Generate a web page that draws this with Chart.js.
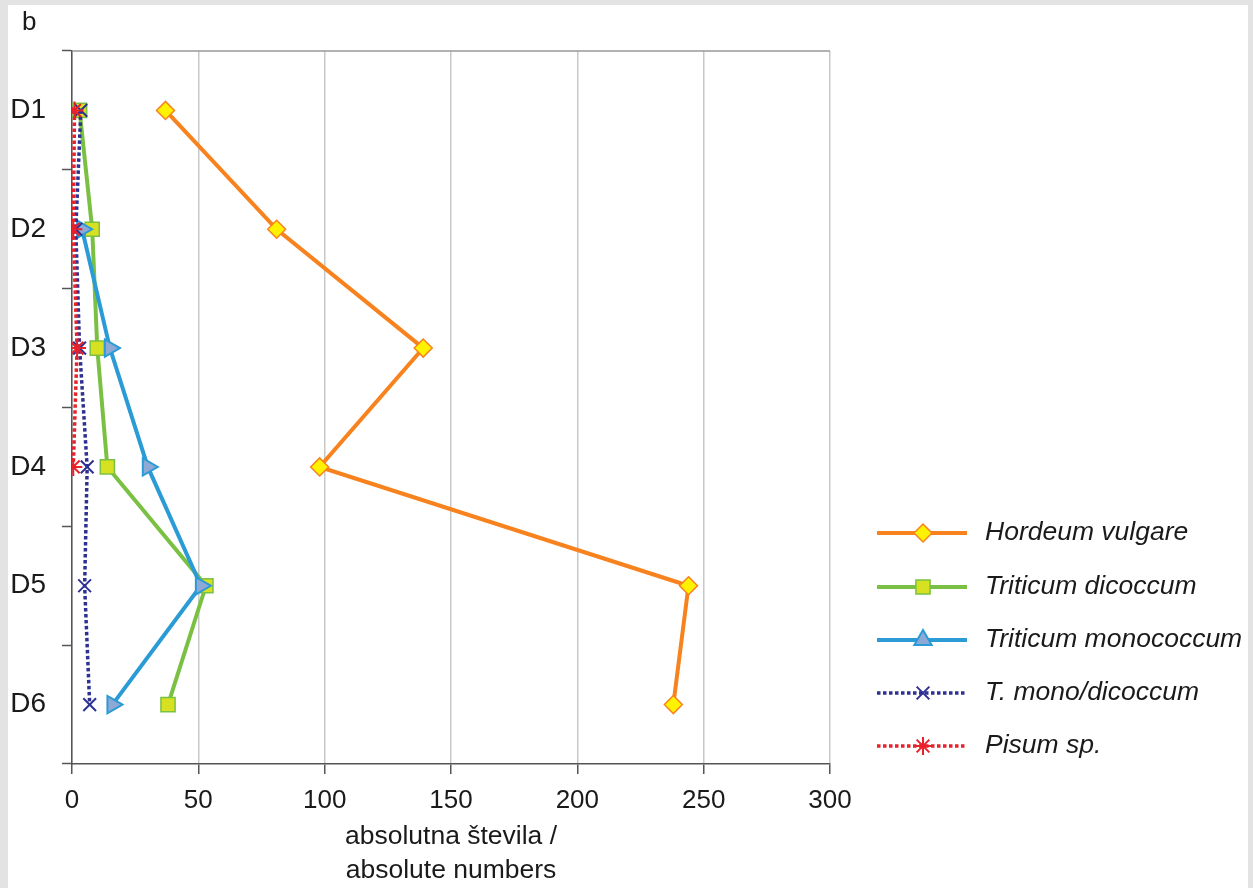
<!DOCTYPE html>
<html>
<head>
<meta charset="utf-8">
<script src="https://cdn.jsdelivr.net/npm/chart.js@4/dist/chart.umd.min.js"></script>
<style>
  html, body { margin:0; padding:0; background:#e3e3e3; width:1253px; height:888px; overflow:hidden; }
  #panel { position:absolute; left:8px; top:5px; width:1240px; height:883px; background:#fff; }
  #c { position:absolute; left:0; top:0; }
</style>
</head>
<body>
<div id="panel"></div>
<canvas id="c" width="1253" height="888"></canvas>
<script>
const categories = ['D1', 'D2', 'D3', 'D4', 'D5', 'D6'];
const xTicks = [0, 50, 100, 150, 200, 250, 300];
const seriesNames = ['Hordeum vulgare', 'Triticum dicoccum', 'Triticum monococcum', 'T. mono/dicoccum', 'Pisum sp.'];
const hordeumVulgare = [37, 81, 139, 98, 244, 238];
const triticumDicoccum = [3, 8, 10, 14, 53, 38];
const triticumMonococcum = [null, 4, 15, 30, 51, 16];
const tMonoDicoccum = [3.5, 1.5, 3, 6, 5, 7];
const pisumSp = [1, 0.5, 2, 0.5, null, null];
const axisTitle = ['absolutna števila /', 'absolute numbers'];
const panelLabel = 'b';

const FONT = "'Liberation Sans', Arial, sans-serif";

const styles = [
  { line:'#F7821E', fill:'#FFF200', border:'#F7821E', pointStyle:'rectRot', radius:9, rot:0, dash:[], width:4, pbw:1.5, order:5 },
  { line:'#7AC143', fill:'#D7E021', border:'#7AC143', pointStyle:'rect', radius:10, rot:0, dash:[], width:4, pbw:1.5, order:4 },
  { line:'#2B9BD6', fill:'#8FA9D6', border:'#2B9BD6', pointStyle:'triangle', radius:10, rot:90, dash:[], width:4, pbw:2, order:3 },
  { line:'#2E3192', fill:'#2E3192', border:'#2E3192', pointStyle:'crossRot', radius:9, rot:0, dash:[3.5,2.5], width:3.5, pbw:2, order:2 },
  { line:'#E8212A', fill:'#E8212A', border:'#E8212A', pointStyle:'star', radius:9, rot:0, dash:[3.5,2.5], width:3.5, pbw:2, order:1 }
];
const values = [hordeumVulgare, triticumDicoccum, triticumMonococcum, tMonoDicoccum, pisumSp];

const datasets = values.map((v, i) => ({
  label: seriesNames[i],
  data: v,
  borderColor: styles[i].line,
  borderWidth: styles[i].width,
  borderDash: styles[i].dash,
  pointStyle: styles[i].pointStyle,
  pointRadius: styles[i].radius,
  pointHoverRadius: styles[i].radius,
  pointRotation: styles[i].rot,
  pointBackgroundColor: styles[i].fill,
  pointBorderColor: styles[i].border,
  pointBorderWidth: styles[i].pbw,
  tension: 0,
  spanGaps: false,
  fill: false,
  order: styles[i].order
}));

const extras = {
  id: 'extras',
  beforeDatasetsDraw(chart) {
    const ctx = chart.ctx, a = chart.chartArea;
    ctx.save();
    ctx.strokeStyle = '#999';
    ctx.lineWidth = 1.5;
    ctx.beginPath();
    ctx.moveTo(a.left, a.top);
    ctx.lineTo(a.right, a.top);
    ctx.stroke();
    ctx.restore();
  },
  afterDraw(chart) {
    const ctx = chart.ctx;
    ctx.save();
    ctx.fillStyle = '#1a1a1a';
    ctx.font = '26px ' + FONT;
    ctx.textBaseline = 'alphabetic';
    ctx.textAlign = 'left';
    ctx.fillText(panelLabel, 22, 30);
    const x0 = 877, x1 = 967, xm = 923, xt = 985;
    const rowY = [533, 587, 640, 693, 746];
    styles.forEach((s, i) => {
      const y = rowY[i];
      ctx.save();
      ctx.strokeStyle = s.line;
      ctx.lineWidth = s.width;
      ctx.setLineDash(s.dash);
      ctx.beginPath();
      ctx.moveTo(x0, y);
      ctx.lineTo(x1, y);
      ctx.stroke();
      ctx.restore();
      ctx.save();
      ctx.fillStyle = s.fill;
      ctx.strokeStyle = s.border;
      ctx.lineWidth = s.pbw;
      Chart.helpers.drawPoint(ctx, { pointStyle: s.pointStyle, rotation: 0, radius: s.radius, borderWidth: s.pbw }, xm, y);
      ctx.restore();
      ctx.fillStyle = '#1a1a1a';
      ctx.font = 'italic 26.5px ' + FONT;
      ctx.textBaseline = 'middle';
      ctx.fillText(seriesNames[i], xt, y);
    });
    ctx.restore();
  }
};

new Chart(document.getElementById('c'), {
  type: 'line',
  data: { labels: categories, datasets },
  options: {
    indexAxis: 'y',
    responsive: false,
    animation: false,
    events: [],
    layout: { padding: { left: 0, top: 51, right: 423, bottom: 0 } },
    plugins: { legend: { display: false }, tooltip: { enabled: false } },
    scales: {
      y: {
        type: 'category',
        offset: true,
        grid: { offset: true, drawOnChartArea: false, tickLength: 10, tickColor: '#555', tickWidth: 1.5 },
        border: { color: '#555', width: 1.5 },
        ticks: { color: '#1a1a1a', font: { family: FONT, size: 28 }, padding: 16 },
        afterFit(scale) { scale.width = 72; }
      },
      x: {
        type: 'linear',
        min: 0, max: 300,
        afterBuildTicks(scale) { scale.ticks = xTicks.map(v => ({ value: v })); },
        grid: { color: '#c8c8c8', lineWidth: 1.5, tickLength: 10, tickColor: '#555', tickWidth: 1.5 },
        border: { color: '#555', width: 1.5 },
        ticks: { color: '#1a1a1a', font: { family: FONT, size: 26 }, padding: 11, maxRotation: 0 },
        title: { display: true, text: axisTitle, color: '#1a1a1a', font: { family: FONT, size: 26.5, lineHeight: 1.3 }, padding: { top: 0, bottom: 0 } },
        afterFit(scale) { scale.height = 124; }
      }
    }
  },
  plugins: [extras]
});
</script>
</body>
</html>
